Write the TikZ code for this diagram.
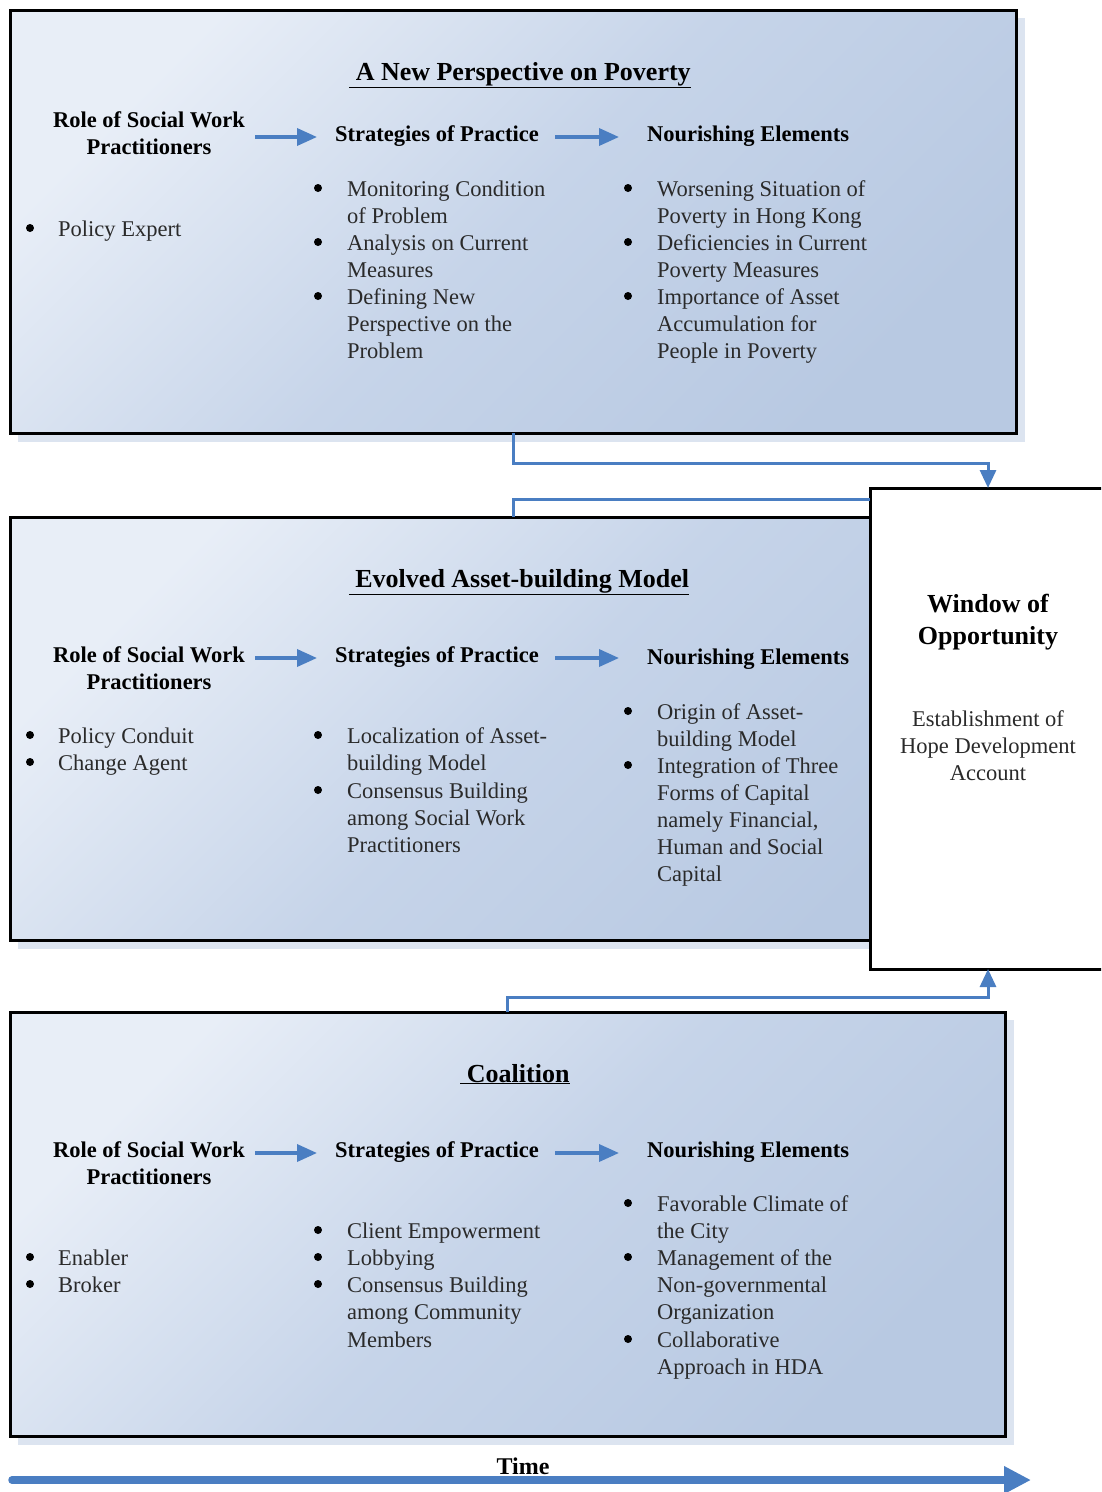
\documentclass[tikz,border=0pt]{standalone}
\usepackage{fontspec}
\setmainfont{Liberation Serif}
\usetikzlibrary{arrows.meta,calc}
\definecolor{pl}{HTML}{E8EEF7}
\definecolor{pm}{HTML}{C6D4E9}
\definecolor{pd}{HTML}{B8C9E2}
\definecolor{shc}{HTML}{DCE4F0}
\definecolor{arr}{HTML}{4A7EC2}
\definecolor{bodyc}{HTML}{2A2A2A}
\newcommand\tln[4]{\node[txt] (#1) at (#2,#3) {#4};}
\newcommand\bpt[3]{\node[bul] (#1) at (#2,{#3-8}) {};}
\begin{document}
\begin{tikzpicture}[x=1pt,y=-1pt,
  txt/.style={anchor=base west, inner sep=0, text=bodyc, font=\fontsize{22.5}{27}\selectfont},
  bul/.style={circle, fill=black, draw=none, inner sep=0, minimum size=8pt},
  hd/.style={anchor=base, inner sep=0, font=\fontsize{22.5}{27}\selectfont\bfseries},
  hdl/.style={anchor=base west, inner sep=0, font=\fontsize{22.5}{27}\selectfont\bfseries},
  ttl/.style={anchor=base, inner sep=0, font=\fontsize{26}{30}\selectfont\bfseries},
  wtx/.style={anchor=base, inner sep=0, text=bodyc, font=\fontsize{22.5}{27}\selectfont},
  panel/.style={draw=black, line width=3pt, top color=pl, bottom color=pd, middle color=pm, shading angle=45, inner sep=0, outer sep=0, anchor=north west},
  shadowbox/.style={fill=shc, draw=none},
  colarr/.style={draw=arr, line width=3.5pt, -{Triangle[length=20pt,width=17pt]}},
  conn/.style={draw=arr, line width=3pt, -{Triangle[length=18pt,width=16pt]}},
  connplain/.style={draw=arr, line width=3pt},
  timearr/.style={draw=arr, line width=7.5pt, -{Triangle[length=27pt,width=26pt]}}
]
\useasboundingbox (0,0) rectangle (1101,1492);
\clip (0,0) rectangle (1101,1492);
\fill[white] (0,0) rectangle (1101,1492);

% shadows
\fill[shadowbox] (18,18) rectangle (1025,442);
\fill[shadowbox] (18,525) rectangle (1025,949);
\fill[shadowbox] (18,1020) rectangle (1014,1445);

% panels
\node[panel, minimum width=1006pt, minimum height=423pt] (box1) at (10,10) {};
\node[panel, minimum width=1006pt, minimum height=423pt] (box2) at (10,517) {};
\node[panel, minimum width=995pt, minimum height=424pt] (box3) at (10,1012) {};
\node[draw=black, line width=3pt, fill=white, inner sep=0, outer sep=0, anchor=north west, minimum width=236pt, minimum height=481pt] (win) at (870,488) {};

% ---------- box 1 ----------
\node[ttl] (t1) at (520,80) {\underline{\ A New Perspective on Poverty}};
\node[hd] (r1a) at (149,127) {Role of Social Work};
\node[hd] (r1b) at (149,154) {Practitioners};
\node[hdl] (s1) at (335,141) {Strategies of Practice};
\node[hdl] (n1) at (647,141) {Nourishing Elements};
\coordinate (a1s) at (255,137); \coordinate (a1e) at (317,137);
\coordinate (a2s) at (555,137); \coordinate (a2e) at (619,137);
\draw[colarr] (a1s) -- (a1e);
\draw[colarr] (a2s) -- (a2e);
\bpt{b11}{30}{236}\tln{l11}{58}{236}{Policy Expert}
\bpt{b12}{318}{196}\tln{l12}{347}{196}{Monitoring Condition}
\tln{l13}{347}{223}{of Problem}
\bpt{b14}{318}{250}\tln{l14}{347}{250}{Analysis on Current}
\tln{l15}{347}{277}{Measures}
\bpt{b16}{318}{304}\tln{l16}{347}{304}{Defining New}
\tln{l17}{347}{331}{Perspective on the}
\tln{l18}{347}{358}{Problem}
\bpt{b19}{628}{196}\tln{l19}{657}{196}{Worsening Situation of}
\tln{l110}{657}{223}{Poverty in Hong Kong}
\bpt{b111}{628}{250}\tln{l111}{657}{250}{Deficiencies in Current}
\tln{l112}{657}{277}{Poverty Measures}
\bpt{b113}{628}{304}\tln{l113}{657}{304}{Importance of Asset}
\tln{l114}{657}{331}{Accumulation for}
\tln{l115}{657}{358}{People in Poverty}

% ---------- box 2 ----------
\node[ttl] (t2) at (519,587) {\underline{\ Evolved Asset-building Model}};
\node[hd] (r2a) at (149,662) {Role of Social Work};
\node[hd] (r2b) at (149,689) {Practitioners};
\node[hdl] (s2) at (335,662) {Strategies of Practice};
\node[hdl] (n2) at (647,664) {Nourishing Elements};
\coordinate (a3s) at (255,658); \coordinate (a3e) at (317,658);
\coordinate (a4s) at (555,658); \coordinate (a4e) at (619,658);
\draw[colarr] (a3s) -- (a3e);
\draw[colarr] (a4s) -- (a4e);
\bpt{b21}{30}{743}\tln{l21}{58}{743}{Policy Conduit}
\bpt{b22}{30}{770}\tln{l22}{58}{770}{Change Agent}
\bpt{b23}{318}{743}\tln{l23}{347}{743}{Localization of Asset-}
\tln{l24}{347}{770}{building Model}
\bpt{b25}{318}{798}\tln{l25}{347}{798}{Consensus Building}
\tln{l26}{347}{825}{among Social Work}
\tln{l27}{347}{852}{Practitioners}
\bpt{b28}{628}{719}\tln{l28}{657}{719}{Origin of Asset-}
\tln{l29}{657}{746}{building Model}
\bpt{b210}{628}{773}\tln{l210}{657}{773}{Integration of Three}
\tln{l211}{657}{800}{Forms of Capital}
\tln{l212}{657}{827}{namely Financial,}
\tln{l213}{657}{854}{Human and Social}
\tln{l214}{657}{881}{Capital}

% ---------- box 3 ----------
\node[ttl] (t3) at (515,1082) {\underline{\ Coalition}};
\node[hd] (r3a) at (149,1157) {Role of Social Work};
\node[hd] (r3b) at (149,1184) {Practitioners};
\node[hdl] (s3) at (335,1157) {Strategies of Practice};
\node[hdl] (n3) at (647,1157) {Nourishing Elements};
\coordinate (a5s) at (255,1153); \coordinate (a5e) at (317,1153);
\coordinate (a6s) at (555,1153); \coordinate (a6e) at (619,1153);
\draw[colarr] (a5s) -- (a5e);
\draw[colarr] (a6s) -- (a6e);
\bpt{b31}{30}{1265}\tln{l31}{58}{1265}{Enabler}
\bpt{b32}{30}{1292}\tln{l32}{58}{1292}{Broker}
\bpt{b33}{318}{1238}\tln{l33}{347}{1238}{Client Empowerment}
\bpt{b34}{318}{1265}\tln{l34}{347}{1265}{Lobbying}
\bpt{b35}{318}{1292}\tln{l35}{347}{1292}{Consensus Building}
\tln{l36}{347}{1319}{among Community}
\tln{l37}{347}{1347}{Members}
\bpt{b38}{628}{1211}\tln{l38}{657}{1211}{Favorable Climate of}
\tln{l39}{657}{1238}{the City}
\bpt{b310}{628}{1265}\tln{l310}{657}{1265}{Management of the}
\tln{l311}{657}{1292}{Non-governmental}
\tln{l312}{657}{1319}{Organization}
\bpt{b313}{628}{1347}\tln{l313}{657}{1347}{Collaborative}
\tln{l314}{657}{1374}{Approach in HDA}

% ---------- window ----------
\node[ttl] (w1) at (988,612) {Window of};
\node[ttl] (w2) at (988,644) {Opportunity};
\node[wtx] (w3) at (988,726) {Establishment of};
\node[wtx] (w4) at (988,753) {Hope Development};
\node[wtx] (w5) at (988,780) {Account};

% ---------- connectors ----------
\draw[conn] (box1.south) -- ++(0,30) -| (win.north);
\coordinate (c2end) at (870,499);
\draw[connplain] (box2.north) |- (c2end);
\draw[conn] (box3.north) -- ++(0,-15) -| (win.south);

% ---------- time ----------
\node[anchor=base, inner sep=0, font=\fontsize{24}{28}\selectfont\bfseries] (time) at (523,1474) {Time};
\coordinate (t0) at (12,1480);
\coordinate (t1e) at (1031,1480);
\draw[timearr, line cap=round] (t0) -- (t1e);
\end{tikzpicture}
\end{document}
